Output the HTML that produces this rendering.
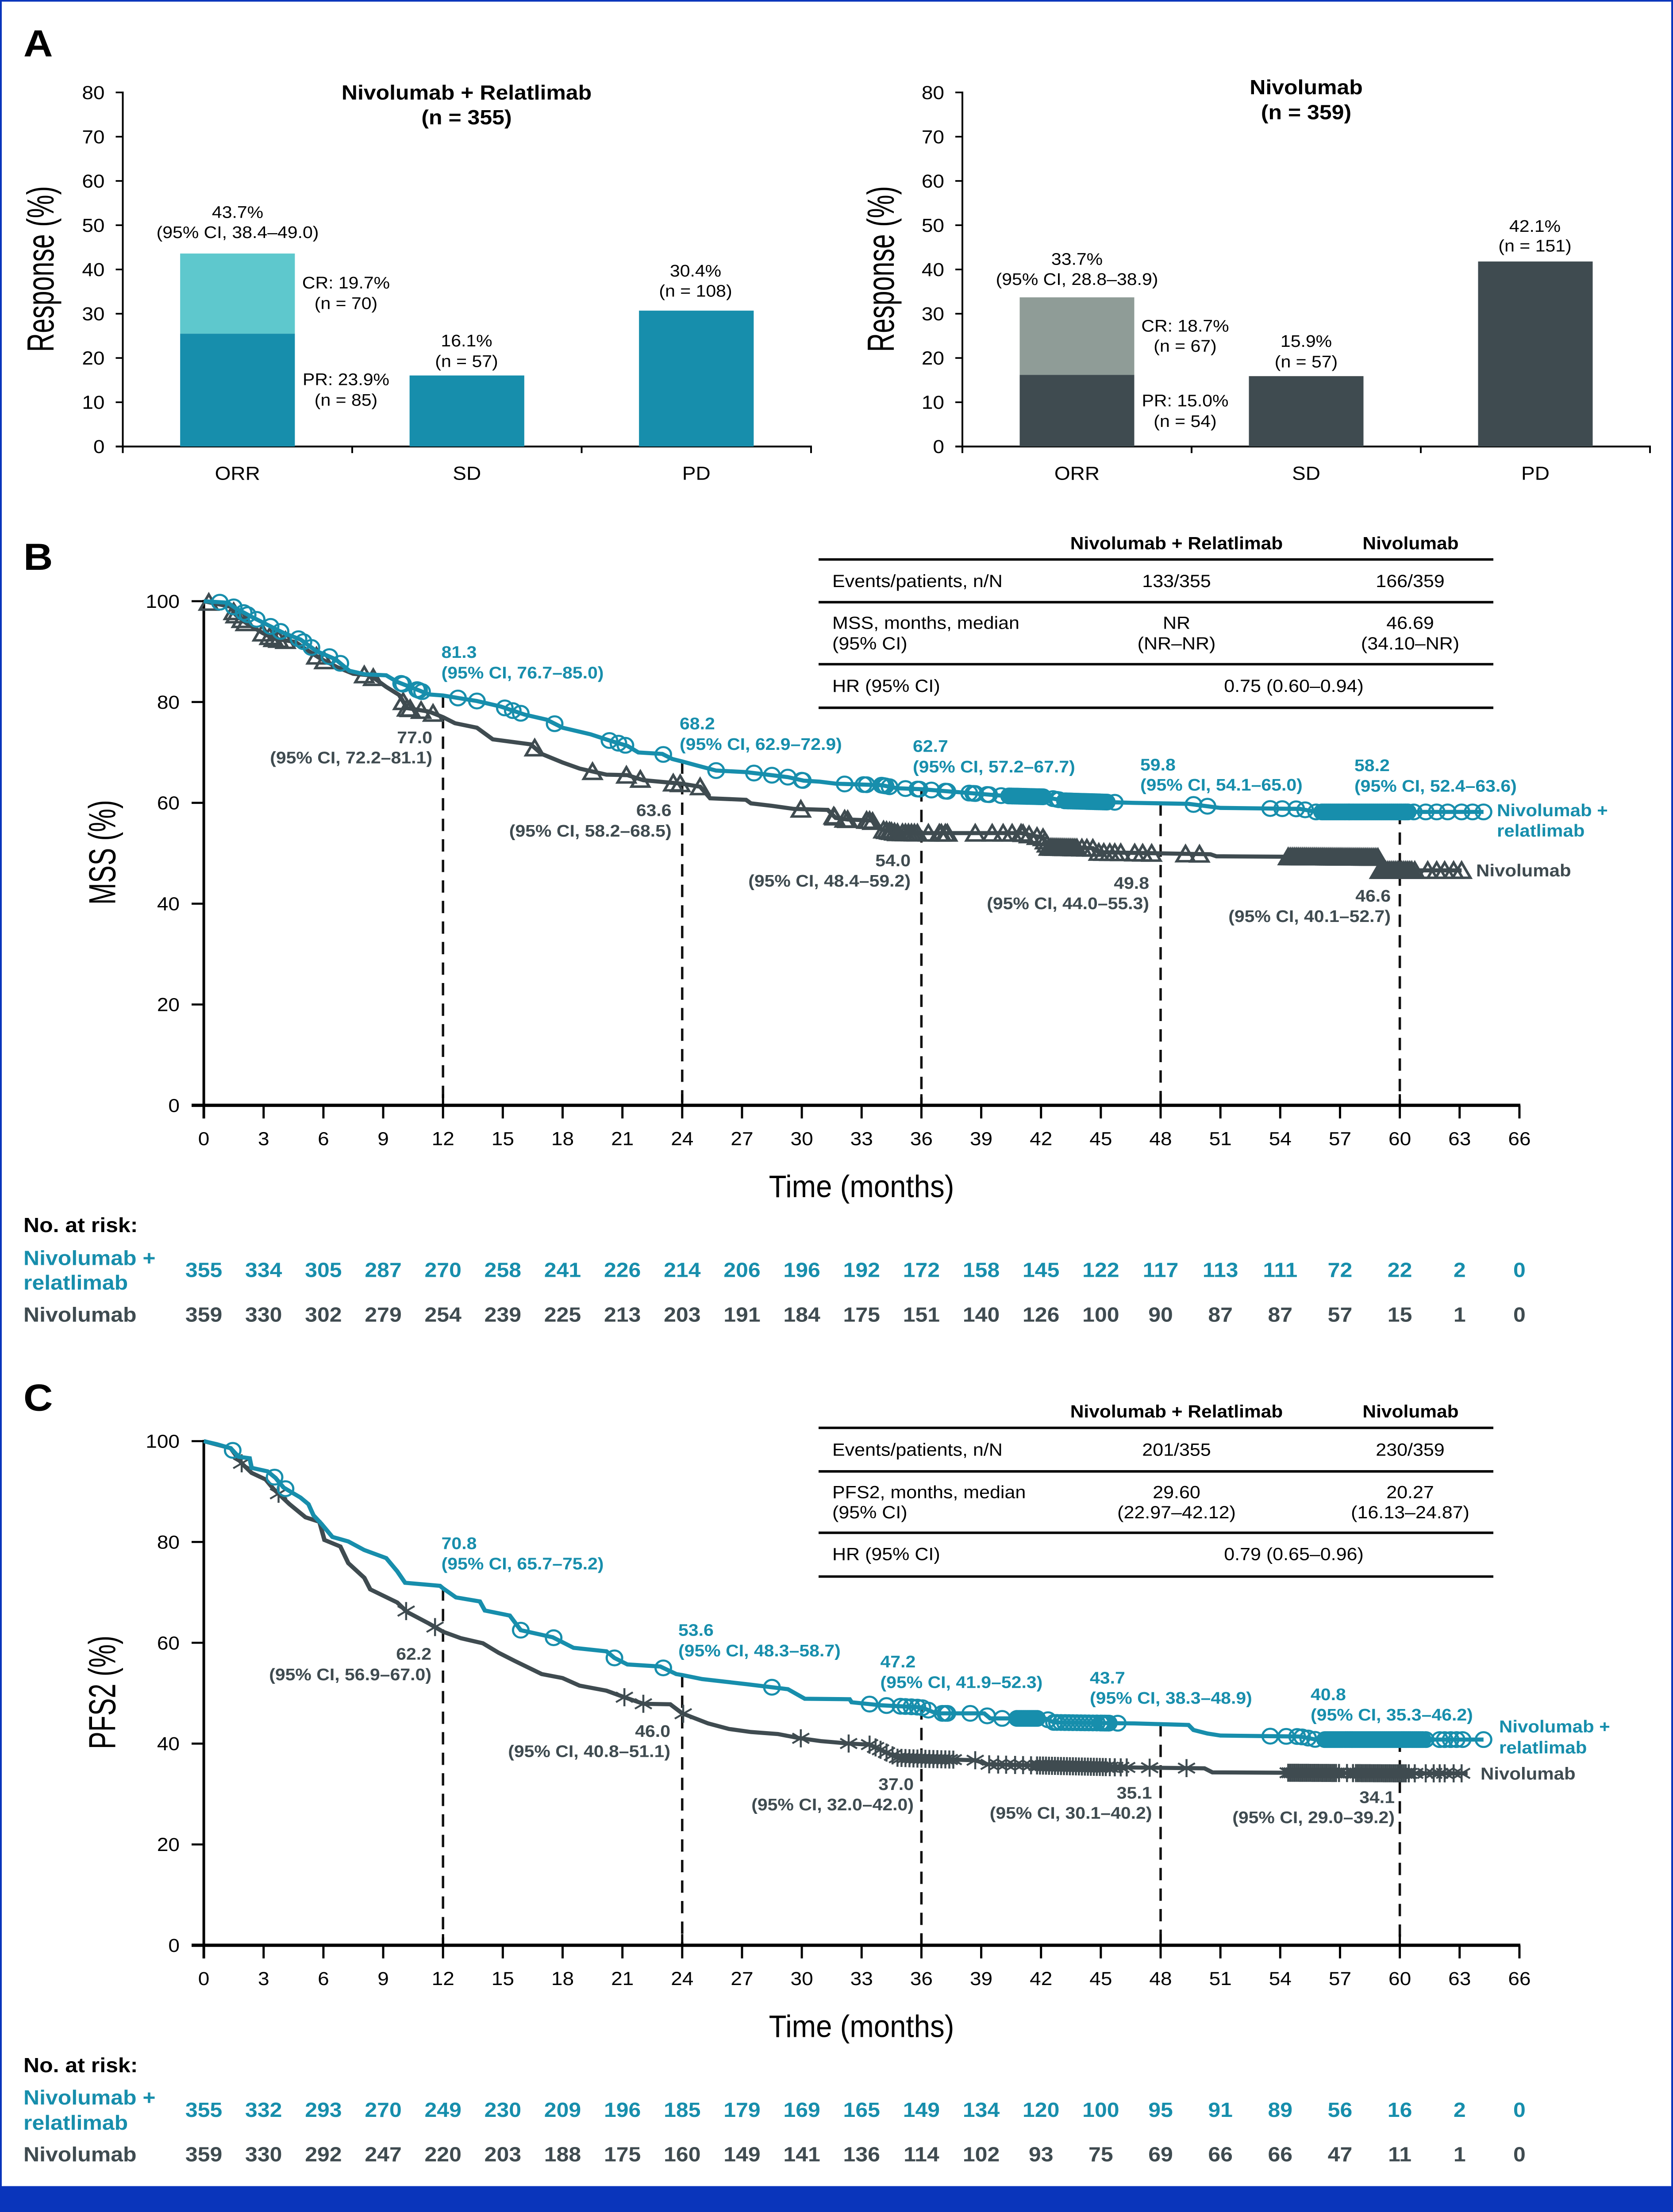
<!DOCTYPE html>
<html lang="en">
<head>
<meta charset="utf-8">
<title>Response, MSS and PFS2 for nivolumab + relatlimab versus nivolumab</title>
<style>
html,body{margin:0;padding:0;background:#fff;width:100%;height:100%;overflow:hidden;}
svg{display:block;width:100vw;height:100vh;}
text{font-family:"Liberation Sans",sans-serif;}
</style>
</head>
<body>
<svg id="fig" xmlns="http://www.w3.org/2000/svg" width="3781" height="5385" viewBox="0 0 3781 5385" preserveAspectRatio="none">
<rect x="0" y="0" width="3781" height="5385" fill="#fff"/>
<rect x="0" y="0" width="3781" height="4" fill="#0a35bb"/>
<rect x="0" y="0" width="4" height="5385" fill="#0a35bb"/>
<rect x="3777" y="0" width="4" height="5385" fill="#0a35bb"/>
<rect x="0" y="5322" width="3781" height="63" fill="#0a35bb"/>
</svg>
<script>
// ---------- Panel A data ----------
const barCategories = ['ORR', 'SD', 'PD'];
const barTicks = [0, 10, 20, 30, 40, 50, 60, 70, 80];
const comboLower = [25.5, 16.05, 30.7];
const comboUpper = [18.1, 0, 0];
const nivoLower = [16.2, 15.9, 41.8];
const nivoUpper = [17.5, 0, 0];

// ---------- Panel B / C axis data ----------
const monthTicks = [0, 3, 6, 9, 12, 15, 18, 21, 24, 27, 30, 33, 36, 39, 42, 45, 48, 51, 54, 57, 60, 63, 66];
const survivalTicks = [0, 20, 40, 60, 80, 100];
const landmarkMonths = [12, 24, 36, 48, 60];

// ---------- Panel B: MSS ----------
const mssComboTimes = [0,1.2,1.6,2.4,3.2,4.0,4.85,5.65,6.6,7.3,8.07,9.15,9.7,10.8,11.3,12,12.75,13.7,14.9,16.1,17.2,18,19.4,20.4,21.25,21.8,23,23.5,24,24.75,25.7,27.2,29.3,30.1,30.9,31.7,34,34.8,36,37.9,40.1,42.1,43.2,46.6,49.4,51,55,55.8,64.2];
const mssComboValues = [100,99.7,98.6,96.9,95.3,93.7,92.4,90.1,88.5,86.2,85.5,85.3,84,82.3,81.5,81.3,80.8,80.2,79.1,77.5,76.5,74.9,73.6,72.3,71.3,70,69.7,68.7,68.2,67.4,66.4,66.1,65.1,64.4,64.2,63.8,63.5,62.9,62.7,62.1,61.4,61.2,60.4,60,59.8,59,58.8,58.2,58.2];
const mssComboCensored = [0.8,1.5,2.0,2.2,2.65,3.35,3.85,4.75,5.0,5.4,6.3,6.85,9.9,10.0,10.7,10.8,10.95,12.75,13.7,15.1,15.5,15.9,17.6,20.35,20.8,21.15,23.05,25.7,27.6,28.5,29.3,30,30.05,32.15,33.1,33.25,34,34.1,34.2,34.4,35.2,35.8,35.9,36.5,37.2,37.3,38.4,38.6,38.7,39.3,39.4,40,40.4,40.5,40.6,40.7,40.8,40.9,41,41.1,41.2,41.3,41.4,41.5,41.6,41.7,41.8,41.9,42,42.1,42.6,42.8,42.9,43.2,43.3,43.4,43.5,43.6,43.7,43.8,43.9,44,44.1,44.2,44.3,44.4,44.5,44.6,44.7,44.8,44.9,45,45.1,45.2,45.3,45.7,49.65,50.35,53.5,54.1,54.8,55.25,55.8,56.1,56.2,56.3,56.4,56.5,56.6,56.7,56.8,56.9,57,57.1,57.2,57.3,57.4,57.5,57.6,57.7,57.8,57.9,58,58.1,58.2,58.3,58.4,58.5,58.6,58.7,58.8,58.9,59,59.1,59.2,59.3,59.4,59.5,59.6,59.7,59.8,59.9,60,60.1,60.2,60.3,60.4,60.7,61.3,61.85,62.4,63.1,63.65,64.2];
const mssNivoTimes = [0,1.35,1.6,2.15,2.95,3.5,4.6,5.1,5.9,6.7,7.5,8.35,9.15,9.8,10.2,11.3,12,12.6,13.7,14.5,16.4,16.95,18,18.85,20.2,21.25,22.05,23.95,24.9,25.4,27.2,27.45,28.5,29.6,31.3,31.7,32.3,33.5,34,34.8,36,41,42.1,42.4,44.6,44.9,46.3,50.5,50.8,58.9,59,63.1];
const mssNivoValues = [100,98.9,97.3,95.6,93.7,92.6,91.9,90.5,88.5,86.9,85.6,85.3,83,81.4,78.8,78.1,77,75.8,74.9,72.6,71.6,69.7,68,66.8,65.6,65.5,64.5,63.8,63.2,60.9,60.6,59.9,59.4,58.8,58.6,57,56.7,56.5,54.7,54.1,54,54,53.1,51.2,51,50.2,50.1,49.8,49.4,49.2,46.6,46.6];
const mssNivoCensored = [0.25,1.5,1.6,1.9,2.1,2.95,3.3,3.5,3.75,4.1,5.65,6.05,8.05,8.5,10,10.2,10.35,10.9,11.5,16.6,19.5,21.2,21.9,23.55,23.9,24.9,29.95,31.6,31.65,32.15,32.3,33.25,33.4,33.55,34.1,34.25,34.4,34.5,34.65,34.8,35.05,35.2,35.35,35.5,35.65,35.8,36.35,36.9,37,37.2,37.3,38.7,39.55,40.1,40.55,41,41.1,41.4,41.8,42.1,42.2,42.3,42.4,42.5,42.6,42.7,42.8,42.9,43,43.1,43.2,43.3,43.4,43.5,43.6,43.7,43.8,44.05,44.3,44.6,44.9,45.15,45.45,45.7,46,46.7,47.1,47.55,49.25,49.95,54.4,54.5,54.6,54.7,54.8,54.9,55,55.1,55.2,55.3,55.4,55.5,55.6,55.7,55.8,55.9,56,56.1,56.2,56.3,56.4,56.5,56.6,56.7,56.8,56.9,57,57.1,57.2,57.3,57.4,57.5,57.6,57.7,57.8,57.9,58,58.1,58.2,58.3,58.4,58.5,58.6,58.7,58.8,58.9,59,59.1,59.2,59.3,59.4,59.5,59.6,59.7,59.8,59.9,60,60.1,60.2,60.3,60.4,60.5,60.6,60.75,61.4,61.85,62.25,62.7,63.1];
const mssComboAtRisk = [355,334,305,287,270,258,241,226,214,206,196,192,172,158,145,122,117,113,111,72,22,2,0];
const mssNivoAtRisk = [359,330,302,279,254,239,225,213,203,191,184,175,151,140,126,100,90,87,87,57,15,1,0];

// ---------- Panel C: PFS2 ----------
const pfsComboTimes = [0,0.65,1.35,1.75,2.3,2.4,3.2,3.6,4,4.85,5.25,5.5,5.9,6.45,7.25,8.05,9.15,9.7,10.1,11.85,12,12.65,13.85,14.1,15.35,15.9,17.5,18.55,20.2,20.6,21.25,22.9,23.7,24,25,27.2,29.3,30.15,32.4,32.5,34,36,36.75,39.15,39.45,42.2,42.65,46.7,49.4,49.65,50.35,51,55,55.8,64.2];
const pfsComboValues = [100,99.4,98.6,96.9,96.6,94.7,94,92.7,90.8,88.8,87.5,85.3,83.6,81,80.1,78.4,76.8,74.2,71.9,71.3,70.8,69,68.2,66.4,65.4,62.5,61.1,59,58.3,57,55.7,55.3,53.8,53.6,52.8,51.8,50.8,48.9,48.8,48.2,47.6,47.2,46,46,45,45,44.2,44,43.7,42.7,42,41.6,41.4,40.8,40.8];
const pfsComboCensored = [1.45,3.55,4.1,15.9,17.55,20.6,23.05,28.5,33.4,34.25,34.95,35.2,35.5,35.8,36.05,36.35,37.05,37.2,37.3,38.45,39.3,40.05,40.8,40.9,41,41.1,41.2,41.3,41.4,41.5,41.6,41.7,41.8,42.35,42.65,42.8,43,43.2,43.4,43.6,43.8,44,44.2,44.4,44.6,44.8,45,45.1,45.2,45.3,45.4,45.85,53.5,54.3,54.85,55.1,55.4,55.75,56.25,56.35,56.45,56.55,56.65,56.75,56.85,56.95,57.05,57.15,57.25,57.35,57.45,57.55,57.65,57.75,57.85,57.95,58.05,58.15,58.25,58.35,58.45,58.55,58.65,58.75,58.85,58.95,59.05,59.15,59.25,59.35,59.45,59.55,59.65,59.75,59.85,59.95,60.05,60.15,60.25,60.35,60.45,60.55,60.65,60.75,60.85,60.95,61.05,61.15,61.3,62,62.25,62.55,62.85,63.15,64.2];
const pfsNivoTimes = [0,1.35,1.9,2.4,3.1,3.5,4.3,5.1,5.8,6.05,6.85,7.25,8.05,8.35,9.7,10.2,11.3,12,12.9,14,14.8,15.6,16.95,18,18.85,20.2,21.1,22.05,23.4,24,25.3,26.35,27.45,28.8,29.85,30.95,32.4,33.4,34.8,36,38.7,39.3,45.7,50.2,50.6,60,63.4];
const pfsNivoValues = [100,98.6,95.6,93.7,92.4,90.5,87.5,84.9,84,80.4,79.1,75.8,72.9,70.6,68,66.1,63.8,62.2,60.9,59.9,58,56.4,53.8,53,51.5,50.5,49.2,47.9,47.8,46,44,42.9,42.3,41.9,41.1,40.5,40,39.8,37.2,37,36.7,35.9,35.3,35.1,34.3,34.1,34.1];
const pfsNivoCensored = [1.9,3.75,10.15,11.6,21.1,22.05,24.05,29.95,32.35,33.4,33.7,33.95,34.25,34.55,34.8,35,35.2,35.4,35.6,35.8,36,36.2,36.4,36.6,36.8,37,37.2,37.4,37.6,38.7,39.4,39.85,40.25,40.7,41.1,41.5,41.8,41.95,42.1,42.25,42.4,42.55,42.7,42.85,43,43.15,43.3,43.45,43.6,43.75,43.9,44.05,44.2,44.35,44.5,44.65,44.8,44.95,45.1,45.25,45.45,45.7,46,46.3,47.45,49.3,54.4,54.5,54.6,54.7,54.8,54.9,55,55.1,55.2,55.3,55.4,55.5,55.6,55.7,55.8,55.9,56,56.1,56.2,56.3,56.4,56.5,56.6,56.7,56.8,56.95,57.35,57.65,57.8,57.9,58,58.1,58.2,58.3,58.4,58.5,58.6,58.7,58.8,58.9,59,59.1,59.2,59.3,59.4,59.5,59.6,59.7,59.8,59.9,60,60.1,60.2,60.3,60.45,60.75,61.3,61.7,62,62.25,62.7,63.1];
const pfsComboAtRisk = [355,332,293,270,249,230,209,196,185,179,169,165,149,134,120,100,95,91,89,56,16,2,0];
const pfsNivoAtRisk = [359,330,292,247,220,203,188,175,160,149,141,136,114,102,93,75,69,66,66,47,11,1,0];

// ---------- Drawing ----------
const NS = 'http://www.w3.org/2000/svg';
const TEAL = '#178eac', LTEAL = '#5ec8cd', DARK = '#3f4b50', LGRAY = '#8f9c97', BLACK = '#000';
const svg = document.getElementById('fig');

function make(tag, name, attrs) {
  const el = document.createElementNS(NS, tag);
  
  
  for (const k in attrs) el.setAttribute(k, attrs[k]);
  svg.appendChild(el);
  return el;
}
function txt(str, x, y, size, anchor, color, weight, name, sx) {
  const el = make('text', name, {
    'font-size': size, 'text-anchor': anchor, fill: color, 'font-weight': weight || 'normal',
    transform: 'translate(' + x + ',' + (y + size * 0.35) + ')' + (sx ? ' scale(' + sx + ',1)' : '')
  });
  el.textContent = str;
  return el;
}
function vtxt(str, baseX, cy, size, name) {
  const el = make('text', name, {
    'font-size': size, 'text-anchor': 'middle', fill: BLACK,
    transform: 'translate(' + baseX + ',' + cy + ') rotate(-90) scale(0.75,1)'
  });
  el.textContent = str;
  return el;
}
function line(x1, y1, x2, y2, w, name, extra) {
  return make('line', name, Object.assign({ x1: x1, y1: y1, x2: x2, y2: y2, stroke: BLACK, 'stroke-width': w }, extra || {}));
}

// ----- Panel A -----
function barPanel(cfg) {
  const yOf = function (v) { return cfg.y0 - (v / 80) * (cfg.y0 - cfg.yTop); };
  const band = (cfg.x1 - cfg.x0) / barCategories.length;
  line(cfg.x0, cfg.yTop - 2, cfg.x0, cfg.y0 + 16, 4, cfg.id + '-y-axis');
  line(cfg.x0 - 16, cfg.y0, cfg.x1 + 2, cfg.y0, 4.5, cfg.id + '-x-axis');
  barTicks.forEach(function (t) {
    line(cfg.x0 - 16, yOf(t), cfg.x0, yOf(t), 4, cfg.id + '-y-tick');
    txt(String(t), cfg.x0 - 41, yOf(t), 46, 'end', BLACK, 'normal', cfg.id + '-y-tick-label');
  });
  barCategories.forEach(function (c, i) {
    line(cfg.x0 + band * (i + 1), cfg.y0, cfg.x0 + band * (i + 1), cfg.y0 + 16, 4, cfg.id + '-x-tick');
    const cx = cfg.x0 + band * (i + 0.5), w = band * 0.5;
    const lo = cfg.lower[i], up = cfg.upper[i];
    make('rect', cfg.id + '-bar-' + c.toLowerCase(), { x: cx - w / 2, y: yOf(lo), width: w, height: cfg.y0 - yOf(lo), fill: cfg.color });
    if (up > 0) {
      make('rect', cfg.id + '-bar-' + c.toLowerCase() + '-cr', { x: cx - w / 2, y: yOf(lo + up), width: w, height: yOf(lo) - yOf(lo + up), fill: cfg.light });
    }
    txt(c, cx, 1152, 46, 'middle', BLACK, 'normal', cfg.id + '-category-label');
  });
  vtxt('Response (%)', cfg.titleX, 655, 85, cfg.id + '-y-axis-title');
}
txt('A', 53, 105, 92, 'start', BLACK, 'bold', 'panel-a-label');
barPanel({ id: 'combo', x0: 277.5, x1: 1833, yTop: 225, y0: 1087, lower: comboLower, upper: comboUpper, color: TEAL, light: LTEAL, titleX: 121 });
barPanel({ id: 'nivo', x0: 2175, x1: 3729, yTop: 225, y0: 1087, lower: nivoLower, upper: nivoUpper, color: DARK, light: LGRAY, titleX: 2020 });

txt('Nivolumab + Relatlimab', 1054.5, 225, 50, 'middle', BLACK, 'bold', 'combo-title');
txt('(n = 355)', 1054.5, 285, 50, 'middle', BLACK, 'bold', 'combo-title-n');
txt('Nivolumab', 2952, 212, 50, 'middle', BLACK, 'bold', 'nivo-title');
txt('(n = 359)', 2952, 273, 50, 'middle', BLACK, 'bold', 'nivo-title-n');

txt('43.7%', 537, 516, 41, 'middle', BLACK, 'normal', 'combo-orr-value');
txt('(95% CI, 38.4–49.0)', 537, 565, 41, 'middle', BLACK, 'normal', 'combo-orr-ci');
txt('CR: 19.7%', 782, 688, 41, 'middle', BLACK, 'normal', 'combo-cr-value');
txt('(n = 70)', 782, 738, 41, 'middle', BLACK, 'normal', 'combo-cr-n');
txt('PR: 23.9%', 782, 923, 41, 'middle', BLACK, 'normal', 'combo-pr-value');
txt('(n = 85)', 782, 973, 41, 'middle', BLACK, 'normal', 'combo-pr-n');
txt('16.1%', 1054.5, 829, 41, 'middle', BLACK, 'normal', 'combo-sd-value');
txt('(n = 57)', 1054.5, 879, 41, 'middle', BLACK, 'normal', 'combo-sd-n');
txt('30.4%', 1572, 659, 41, 'middle', BLACK, 'normal', 'combo-pd-value');
txt('(n = 108)', 1572, 708, 41, 'middle', BLACK, 'normal', 'combo-pd-n');

txt('33.7%', 2434, 630, 41, 'middle', BLACK, 'normal', 'nivo-orr-value');
txt('(95% CI, 28.8–38.9)', 2434, 679, 41, 'middle', BLACK, 'normal', 'nivo-orr-ci');
txt('CR: 18.7%', 2678.5, 793, 41, 'middle', BLACK, 'normal', 'nivo-cr-value');
txt('(n = 67)', 2678.5, 842, 41, 'middle', BLACK, 'normal', 'nivo-cr-n');
txt('PR: 15.0%', 2678.5, 975, 41, 'middle', BLACK, 'normal', 'nivo-pr-value');
txt('(n = 54)', 2678.5, 1025, 41, 'middle', BLACK, 'normal', 'nivo-pr-n');
txt('15.9%', 2952, 830, 41, 'middle', BLACK, 'normal', 'nivo-sd-value');
txt('(n = 57)', 2952, 880, 41, 'middle', BLACK, 'normal', 'nivo-sd-n');
txt('42.1%', 3469, 550, 41, 'middle', BLACK, 'normal', 'nivo-pd-value');
txt('(n = 151)', 3469, 598, 41, 'middle', BLACK, 'normal', 'nivo-pd-n');

// ----- KM panels -----
function curveAt(times, values, t) {
  if (t <= times[0]) return values[0];
  for (let i = 1; i < times.length; i++) {
    if (t <= times[i]) {
      const f = (t - times[i - 1]) / (times[i] - times[i - 1]);
      return values[i - 1] + f * (values[i] - values[i - 1]);
    }
  }
  return values[values.length - 1];
}
function kmPanel(c) {
  const xOf = function (t) { return 460.6 + t * 45.05; };
  const yOf = function (v) { return c.y0 - v * 12.272; };

  // landmark dashed lines
  landmarkMonths.forEach(function (m) {
    const el = make('line', c.id + '-landmark-' + m, {
      x1: xOf(m), x2: xOf(m), y1: yOf(curveAt(c.comboT, c.comboV, m)), y2: c.y0,
      stroke: '#111', 'stroke-width': 5.5, 'stroke-dasharray': '30 20'
    });
  });

  // axes
  line(460.6, yOf(100) - 3, 460.6, c.y0 + 32, 6, c.id + '-y-axis');
  line(433, c.y0, xOf(66) + 2, c.y0, 8, c.id + '-x-axis');
  survivalTicks.forEach(function (t) {
    line(433, yOf(t), 460, yOf(t), 5, c.id + '-y-tick');
    txt(String(t), 406, yOf(t), 46, 'end', BLACK, 'normal', c.id + '-y-tick-label');
  });
  monthTicks.forEach(function (m, i) {
    const major = landmarkMonths.indexOf(m) >= 0;
    line(xOf(m), c.y0 - (major ? 27 : 0), xOf(m), c.y0 + 32, 5, c.id + '-x-tick');
    txt(String(m), xOf(m), c.y0 + 81, 46, 'middle', BLACK, 'normal', c.id + '-x-tick-label');
    txt(String(c.comboRisk[i]), xOf(m), c.riskComboY, 50, 'middle', TEAL, 'bold', c.id + '-risk-combo-value');
    txt(String(c.nivoRisk[i]), xOf(m), c.riskNivoY, 50, 'middle', DARK, 'bold', c.id + '-risk-nivo-value');
  });
  vtxt(c.yTitle, 260.6, c.yTitleCy, 85, c.id + '-y-axis-title');
  txt('Time (months)', 1947, c.y0 + 197, 76, 'middle', BLACK, 'normal', c.id + '-x-axis-title', 0.86);

  // curves
  function pathFor(times, values) {
    return times.map(function (t, i) { return (i ? 'L' : 'M') + xOf(t).toFixed(1) + ' ' + yOf(values[i]).toFixed(1); }).join('');
  }
  // nivolumab series
  make('path', c.id + '-nivolumab-curve', { d: pathFor(c.nivoT, c.nivoV), fill: 'none', stroke: DARK, 'stroke-width': 10, 'stroke-linejoin': 'miter' });
  c.nivoC.forEach(function (t) {
    const px = xOf(t), py = yOf(curveAt(c.nivoT, c.nivoV, t));
    if (c.star) {
      const d = 'M' + px + ' ' + (py - 22) + 'V' + (py + 22) + 'M' + (px - 19) + ' ' + (py - 12) + 'L' + (px + 19) + ' ' + (py + 12) + 'M' + (px - 19) + ' ' + (py + 12) + 'L' + (px + 19) + ' ' + (py - 12);
      const mark = make('path', c.id + '-nivolumab-censor', { d: d, fill: 'none', stroke: DARK, 'stroke-width': 4.5 });
    } else {
      const d = 'M' + px + ' ' + (py - 19) + 'L' + (px + 20) + ' ' + (py + 18) + 'H' + (px - 20) + 'Z';
      const mark = make('path', c.id + '-nivolumab-censor', { d: d, fill: 'none', stroke: DARK, 'stroke-width': 6 });
    }
  });
  // combination series
  make('path', c.id + '-combo-curve', { d: pathFor(c.comboT, c.comboV), fill: 'none', stroke: TEAL, 'stroke-width': 10, 'stroke-linejoin': 'miter' });
  c.comboC.forEach(function (t) {
    make('ellipse', c.id + '-combo-censor', { cx: xOf(t), cy: yOf(curveAt(c.comboT, c.comboV, t)), rx: 17.5, ry: 18, fill: 'none', stroke: TEAL, 'stroke-width': 5 });
  });

  // risk table labels
  txt('No. at risk:', 53, c.riskHeadY, 50, 'start', BLACK, 'bold', c.id + '-risk-heading');
  txt('Nivolumab +', 53, c.riskNameY1, 50, 'start', TEAL, 'bold', c.id + '-risk-combo-name');
  txt('relatlimab', 53, c.riskNameY2, 50, 'start', TEAL, 'bold', c.id + '-risk-combo-name-2');
  txt('Nivolumab', 53, c.riskNivoY, 50, 'start', DARK, 'bold', c.id + '-risk-nivo-name');

  // summary table
  const rows = c.rowY;
  c.ruleY.forEach(function (y) { line(1850, y, 3375, y, 6, c.id + '-table-rule'); });
  txt('Nivolumab + Relatlimab', 2659, rows[0], 42.5, 'middle', BLACK, 'bold', c.id + '-table-head-combo');
  txt('Nivolumab', 3188, rows[0], 42.5, 'middle', BLACK, 'bold', c.id + '-table-head-nivo');
  txt('Events/patients, n/N', 1881, rows[1], 43, 'start', BLACK, 'normal', c.id + '-table-events-label');
  txt(c.events[0], 2659, rows[1], 43, 'middle', BLACK, 'normal', c.id + '-table-events-combo');
  txt(c.events[1], 3187, rows[1], 43, 'middle', BLACK, 'normal', c.id + '-table-events-nivo');
  txt(c.medianLabel, 1881, rows[2], 43, 'start', BLACK, 'normal', c.id + '-table-median-label');
  txt('(95% CI)', 1881, rows[3], 43, 'start', BLACK, 'normal', c.id + '-table-median-ci-label');
  txt(c.median[0], 2659, rows[2], 43, 'middle', BLACK, 'normal', c.id + '-table-median-combo');
  txt(c.median[1], 3187, rows[2], 43, 'middle', BLACK, 'normal', c.id + '-table-median-nivo');
  txt(c.median[2], 2659, rows[3], 43, 'middle', BLACK, 'normal', c.id + '-table-ci-combo');
  txt(c.median[3], 3187, rows[3], 43, 'middle', BLACK, 'normal', c.id + '-table-ci-nivo');
  txt('HR (95% CI)', 1881, rows[4], 43, 'start', BLACK, 'normal', c.id + '-table-hr-label');
  txt(c.hr, 2924, rows[4], 43, 'middle', BLACK, 'normal', c.id + '-table-hr-value');
}

txt('B', 53, 1355, 92, 'start', BLACK, 'bold', 'panel-b-label');
kmPanel({
  id: 'mss', y0: 2690.8, yTitle: 'MSS (%)', yTitleCy: 2075,
  comboT: mssComboTimes, comboV: mssComboValues, comboC: mssComboCensored,
  nivoT: mssNivoTimes, nivoV: mssNivoValues, nivoC: mssNivoCensored, star: false,
  comboRisk: mssComboAtRisk, nivoRisk: mssNivoAtRisk,
  riskHeadY: 2982, riskNameY1: 3062, riskNameY2: 3122, riskComboY: 3091, riskNivoY: 3200,
  ruleY: [1362, 1466, 1617, 1723], rowY: [1322, 1414, 1516, 1566, 1669.5],
  events: ['133/355', '166/359'], medianLabel: 'MSS, months, median',
  median: ['NR', '46.69', '(NR–NR)', '(34.10–NR)'], hr: '0.75 (0.60–0.94)'
});

txt('C', 53, 3402, 92, 'start', BLACK, 'bold', 'panel-c-label');
kmPanel({
  id: 'pfs2', y0: 4735.6, yTitle: 'PFS2 (%)', yTitleCy: 4120,
  comboT: pfsComboTimes, comboV: pfsComboValues, comboC: pfsComboCensored,
  nivoT: pfsNivoTimes, nivoV: pfsNivoValues, nivoC: pfsNivoCensored, star: true,
  comboRisk: pfsComboAtRisk, nivoRisk: pfsNivoAtRisk,
  riskHeadY: 5027, riskNameY1: 5106, riskNameY2: 5167, riskComboY: 5136, riskNivoY: 5244,
  ruleY: [3476, 3582, 3731.5, 3838], rowY: [3436, 3529, 3632, 3681, 3783],
  events: ['201/355', '230/359'], medianLabel: 'PFS2, months, median',
  median: ['29.60', '20.27', '(22.97–42.12)', '(16.13–24.87)'], hr: '0.79 (0.65–0.96)'
});

// curve annotations
function note(a, b, x, y1, y2, anchor, color, name) {
  txt(a, x, y1, 41, anchor, color, 'bold', name + '-value');
  txt(b, x, y2, 41, anchor, color, 'bold', name + '-ci');
}
note('81.3', '(95% CI, 76.7–85.0)', 997.6, 1587, 1637, 'start', TEAL, 'mss-combo-12m');
note('68.2', '(95% CI, 62.9–72.9)', 1536, 1761, 1811, 'start', TEAL, 'mss-combo-24m');
note('62.7', '(95% CI, 57.2–67.7)', 2063, 1816, 1866, 'start', TEAL, 'mss-combo-36m');
note('59.8', '(95% CI, 54.1–65.0)', 2577, 1861, 1910, 'start', TEAL, 'mss-combo-48m');
note('58.2', '(95% CI, 52.4–63.6)', 3061, 1863, 1913, 'start', TEAL, 'mss-combo-60m');
note('77.0', '(95% CI, 72.2–81.1)', 977, 1795, 1844, 'end', DARK, 'mss-nivo-12m');
note('63.6', '(95% CI, 58.2–68.5)', 1517.6, 1972, 2022, 'end', DARK, 'mss-nivo-24m');
note('54.0', '(95% CI, 48.4–59.2)', 2058, 2094.5, 2144, 'end', DARK, 'mss-nivo-36m');
note('49.8', '(95% CI, 44.0–55.3)', 2597, 2149.5, 2199, 'end', DARK, 'mss-nivo-48m');
note('46.6', '(95% CI, 40.1–52.7)', 3143, 2180.6, 2230, 'end', DARK, 'mss-nivo-60m');
txt('Nivolumab +', 3383, 1972.5, 42, 'start', TEAL, 'bold', 'mss-legend-combo');
txt('relatlimab', 3383, 2022, 42, 'start', TEAL, 'bold', 'mss-legend-combo-2');
txt('Nivolumab', 3336, 2119, 42, 'start', DARK, 'bold', 'mss-legend-nivo');

note('70.8', '(95% CI, 65.7–75.2)', 997.6, 3757, 3806.5, 'start', TEAL, 'pfs2-combo-12m');
note('53.6', '(95% CI, 48.3–58.7)', 1533, 3968, 4018, 'start', TEAL, 'pfs2-combo-24m');
note('47.2', '(95% CI, 41.9–52.3)', 1989.5, 4045, 4095, 'start', TEAL, 'pfs2-combo-36m');
note('43.7', '(95% CI, 38.3–48.9)', 2463, 4084, 4133, 'start', TEAL, 'pfs2-combo-48m');
note('40.8', '(95% CI, 35.3–46.2)', 2962, 4124.6, 4174, 'start', TEAL, 'pfs2-combo-60m');
note('62.2', '(95% CI, 56.9–67.0)', 975, 4026, 4076, 'end', DARK, 'pfs2-nivo-12m');
note('46.0', '(95% CI, 40.8–51.1)', 1515, 4214, 4263, 'end', DARK, 'pfs2-nivo-24m');
note('37.0', '(95% CI, 32.0–42.0)', 2065, 4343, 4393, 'end', DARK, 'pfs2-nivo-36m');
note('35.1', '(95% CI, 30.1–40.2)', 2603.5, 4364, 4413, 'end', DARK, 'pfs2-nivo-48m');
note('34.1', '(95% CI, 29.0–39.2)', 3152, 4375, 4424, 'end', DARK, 'pfs2-nivo-60m');
txt('Nivolumab +', 3388, 4203, 42, 'start', TEAL, 'bold', 'pfs2-legend-combo');
txt('relatlimab', 3388, 4254, 42, 'start', TEAL, 'bold', 'pfs2-legend-combo-2');
txt('Nivolumab', 3346, 4317.6, 42, 'start', DARK, 'bold', 'pfs2-legend-nivo');
</script>
</body>
</html>
